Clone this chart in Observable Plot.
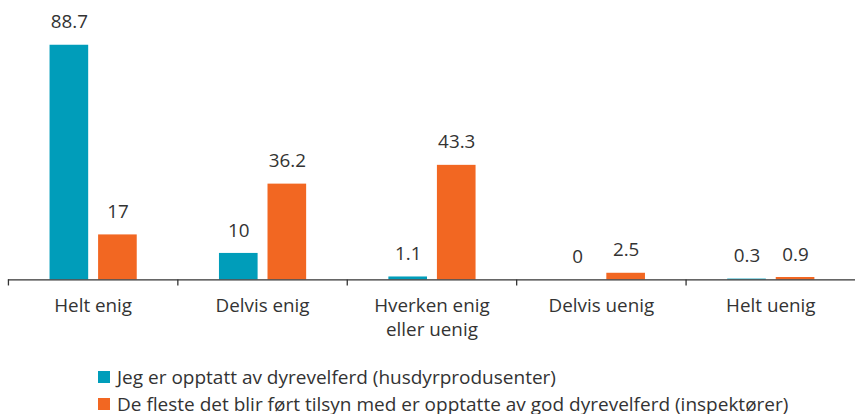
<!DOCTYPE html>
<html>
<head>
<meta charset="utf-8">
<script src="https://cdn.jsdelivr.net/npm/d3@7"></script>
<script src="https://cdn.jsdelivr.net/npm/@observablehq/plot@0.6"></script>
<style>
  html, body { margin: 0; padding: 0; background: #fff; overflow: hidden; width: 856px; height: 414px; }
  body { font-family: "Open Sans", Lato, sans-serif; color: #333; }
  #chart svg { display: block; }
  .legend { position: absolute; left: 98px; top: 363px; font-size: 19px; color: #333; white-space: nowrap; }
  .legend .item { display: flex; align-items: center; height: 27px; }
  .legend .sw { width: 12px; height: 12px; margin-right: 7px; flex: none; }
</style>
</head>
<body>
<div id="chart"></div>
<div class="legend" id="legend"></div>
<script>
const categories = ["Helt enig", "Delvis enig", "Hverken enig\neller uenig", "Delvis uenig", "Helt uenig"];
const seriesNames = ["Jeg er opptatt av dyrevelferd (husdyrprodusenter)", "De fleste det blir ført tilsyn med er opptatte av god dyrevelferd (inspektører)"];
const producers = [88.7, 10, 1.1, 0, 0.3];
const inspectors = [17, 36.2, 43.3, 2.5, 0.9];
const colors = ["#009DBA", "#F26722"];

const prodData = categories.map((c, i) => ({category: c, value: producers[i], series: seriesNames[0]}));
const inspData = categories.map((c, i) => ({category: c, value: inspectors[i], series: seriesNames[1]}));

const chart = Plot.plot({
  width: 864,
  height: 345,
  marginLeft: 8,
  marginRight: 1,
  marginTop: 15,
  marginBottom: 63,
  style: {fontFamily: "'Open Sans', Lato, sans-serif", fontSize: "19px", color: "#333", background: "#fff"},
  x: {type: "band", domain: categories, padding: 0, axis: null},
  y: {domain: [0, 100], axis: null},
  color: {domain: seriesNames, range: colors},
  marks: [
    Plot.barY(prodData, {x: "category", y: "value", fill: "series", insetLeft: 42, insetRight: 90}),
    Plot.barY(inspData, {x: "category", y: "value", fill: "series", insetLeft: 91, insetRight: 41}),
    Plot.text(prodData, {x: "category", y: "value", text: d => String(d.value), dx: -24, dy: -17, lineAnchor: "bottom", fontSize: 19, fill: "#333"}),
    Plot.text(inspData, {x: "category", y: "value", text: d => String(d.value), dx: 25, dy: -17, lineAnchor: "bottom", fontSize: 19, fill: "#333"}),
    Plot.ruleY([0], {stroke: "#333", strokeWidth: 1.3}),
    Plot.ruleX(categories, {x: d => d, dx: -85.5, y1: 0, y2: -2.3, stroke: "#333", strokeWidth: 1.3}),
    Plot.text(categories, {x: d => d, y: 0, text: d => d, lineAnchor: "top", dy: 15, lineHeight: 1.28, fontSize: 19, fill: "#333"})
  ]
});
document.getElementById("chart").append(chart);

const legend = document.getElementById("legend");
seriesNames.forEach((name, i) => {
  const item = document.createElement("div");
  item.className = "item";
  const sw = document.createElement("span");
  sw.className = "sw";
  sw.style.background = colors[i];
  const label = document.createElement("span");
  label.textContent = name;
  item.append(sw, label);
  legend.append(item);
});
</script>
</body>
</html>
